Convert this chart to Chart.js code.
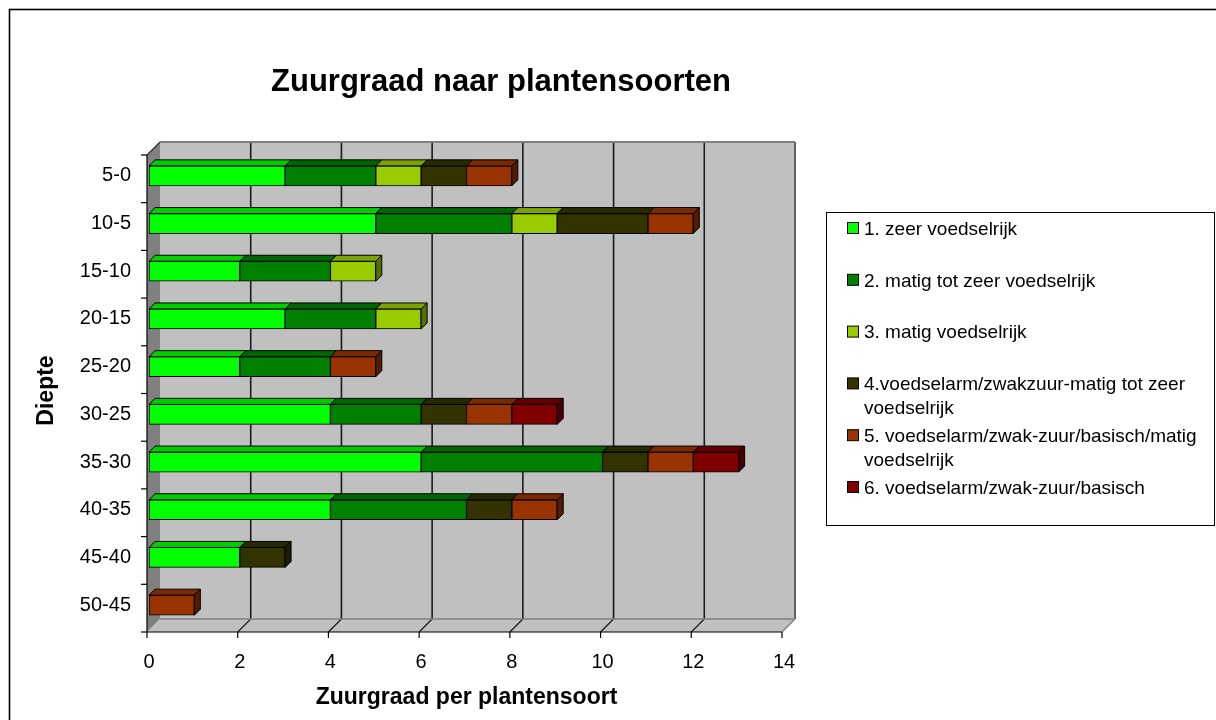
<!DOCTYPE html>
<html lang="nl">
<head>
<meta charset="UTF-8">
<title>Zuurgraad naar plantensoorten</title>
<script src="https://cdn.jsdelivr.net/npm/chart.js"></script>
<style>
html,body{margin:0;padding:0;background:#fff;}
canvas{display:block;}
</style>
</head>
<body>
<canvas id="chart" width="1216" height="720"></canvas>
<script>
/* ── data ───────────────────────────────────────────── */
const DEPTHS=["5-0","10-5","15-10","20-15","25-20","30-25","35-30","40-35","45-40","50-45"];
const ZEER_VOEDSELRIJK   =[3,5,2,3,2,4,6,4,2,0];
const MATIG_TOT_ZEER     =[2,3,2,2,2,2,4,3,0,0];
const MATIG_VOEDSELRIJK  =[1,1,1,1,0,0,0,0,0,0];
const VOEDSELARM_MATIG   =[1,2,0,0,0,1,1,1,1,0];
const VOEDSELARM_BASISCH =[1,1,0,0,1,1,1,1,0,1];
const VOEDSELARM_ZUUR    =[0,0,0,0,0,1,1,0,0,0];
const SERIES_NAMES=[
  "1. zeer voedselrijk",
  "2. matig tot zeer voedselrijk",
  "3. matig voedselrijk",
  "4.voedselarm/zwakzuur-matig tot zeer voedselrijk",
  "5. voedselarm/zwak-zuur/basisch/matig voedselrijk",
  "6. voedselarm/zwak-zuur/basisch"
];
const SERIES=[ZEER_VOEDSELRIJK,MATIG_TOT_ZEER,MATIG_VOEDSELRIJK,VOEDSELARM_MATIG,VOEDSELARM_BASISCH,VOEDSELARM_ZUUR];
const COLORS=["#00FF00","#008000","#99CC00","#333300","#993300","#800000"];
const X_TICKS=[0,2,4,6,8,10,12,14];

const FONT='"Liberation Sans", Arial, Helvetica, sans-serif';

/* ── 3d helpers ─────────────────────────────────────── */
const FRONT={dx:-2,dy:3}, BACK={dx:11,dy:-10}, BAR_D={dx:6,dy:-6};

const shade=(hex,f)=>{
  const n=parseInt(hex.slice(1),16);
  const r=(n>>16)&255,g=(n>>8)&255,b=n&255;
  return `rgb(${Math.round(r*f)},${Math.round(g*f)},${Math.round(b*f)})`;
};
function poly(ctx,pts,fill,stroke,lw){
  ctx.beginPath();
  pts.forEach(([px,py],i)=>i?ctx.lineTo(px,py):ctx.moveTo(px,py));
  ctx.closePath();
  if(fill){ctx.fillStyle=fill;ctx.fill();}
  if(stroke){ctx.strokeStyle=stroke;ctx.lineWidth=lw||1;ctx.stroke();}
}
function line(ctx,x1,y1,x2,y2,col,lw){
  ctx.beginPath();ctx.moveTo(x1,y1);ctx.lineTo(x2,y2);
  ctx.strokeStyle=col;ctx.lineWidth=lw||1;ctx.stroke();
}

const walls={
  id:"walls",
  beforeDatasetsDraw(chart){
    const {ctx,chartArea:a,scales:{x}}=chart;
    const fl=a.left+FRONT.dx, ft=a.top+FRONT.dy, fr=a.right+FRONT.dx, fb=a.bottom+FRONT.dy;
    const bl=a.left+BACK.dx,  bt=a.top+BACK.dy,  br=a.right+BACK.dx,  bb=a.bottom+BACK.dy;
    ctx.save();
    // back wall, floor, side wall
    ctx.fillStyle="#C0C0C0";ctx.fillRect(bl,bt,br-bl,bb-bt);
    poly(ctx,[[fl,fb],[bl,bb],[br,bb],[fr,fb]],"#C0C0C0");
    poly(ctx,[[fl,ft],[bl,bt],[bl,bb],[fl,fb]],"#808080");
    // grid on wall + floor
    X_TICKS.forEach((v,i)=>{
      if(i===0||i===X_TICKS.length-1) return;
      const px=x.getPixelForValue(v);
      line(ctx,px+BACK.dx,bt,px+BACK.dx,bb,"#1a1a1a",1.6);
      line(ctx,px+FRONT.dx,fb,px+BACK.dx,bb,"#1a1a1a",1.2);
    });
    // wall edges
    line(ctx,bl,bt,br,bt,"#808080",2);
    line(ctx,br,bt,br,bb,"#606060",2);
    line(ctx,bl,bb,br,bb,"#808080",1.5);
    line(ctx,fr,fb,br,bb,"#808080",1.5);
    line(ctx,fl,ft,bl,bt,"#303030",1.2);
    // axes
    line(ctx,fl,ft,fl,fb,"#000",1.2);
    line(ctx,fl,fb,fr,fb,"#000",1.2);
    X_TICKS.forEach(v=>{
      const px=x.getPixelForValue(v)+FRONT.dx;
      line(ctx,px,fb,px,fb+6,"#000",1.2);
    });
    const n=DEPTHS.length;
    for(let i=0;i<=n;i++){
      const yb=ft+(fb-ft)*i/n;
      line(ctx,fl-6,yb,fl,yb,"#000",1.2);
    }
    ctx.restore();
  },
  afterDatasetsDraw(chart){
    const {ctx}=chart;
    ctx.save();
    ctx.lineJoin="miter";
    DEPTHS.forEach((_,j)=>{
      let last=-1;
      SERIES.forEach((s,i)=>{if(s[j]>0) last=i;});
      SERIES.forEach((s,i)=>{
        if(!(s[j]>0)) return;
        const el=chart.getDatasetMeta(i).data[j];
        const {x:xe,y:yc,base,height}=el.getProps(["x","y","base","height"],true);
        const top=yc-height/2, bot=yc+height/2;
        poly(ctx,[[base,top],[base+BAR_D.dx,top+BAR_D.dy],[xe+BAR_D.dx,top+BAR_D.dy],[xe,top]],
             shade(COLORS[i],0.8),"#000",1);
        if(i===last){
          poly(ctx,[[xe,top],[xe+BAR_D.dx,top+BAR_D.dy],[xe+BAR_D.dx,bot+BAR_D.dy],[xe,bot]],
               shade(COLORS[i],0.55),"#000",1);
        }
      });
    });
    ctx.restore();
  },
  afterDraw(chart){
    const {ctx}=chart;
    ctx.save();
    // outer frame
    ctx.strokeStyle="#000";ctx.lineWidth=1.6;
    ctx.strokeRect(9.5,9.5,1230,740);
    // title
    ctx.fillStyle="#000";
    ctx.font=`bold 31px ${FONT}`;
    ctx.textAlign="center";ctx.textBaseline="middle";
    ctx.fillText("Zuurgraad naar plantensoorten",501,82);
    // legend
    ctx.lineWidth=1;ctx.strokeStyle="#000";
    ctx.strokeRect(826.5,212.5,388,313);
    ctx.font=`19px ${FONT}`;
    ctx.textAlign="left";
    const maxW=346;
    SERIES_NAMES.forEach((name,i)=>{
      const yi=228.5+i*51.8;
      ctx.fillStyle=COLORS[i];
      ctx.fillRect(847.5,yi-6,11,11);
      ctx.strokeRect(847.5,yi-6,11,11);
      // wrap
      const words=name.split(" ");const lines=[];let cur="";
      words.forEach(w=>{
        const t=cur?cur+" "+w:w;
        if(ctx.measureText(t).width>maxW&&cur){lines.push(cur);cur=w;}else cur=t;
      });
      lines.push(cur);
      ctx.fillStyle="#000";
      lines.forEach((l,k)=>ctx.fillText(l,864,yi+1+k*24));
    });
    ctx.restore();
  }
};

/* ── chart ──────────────────────────────────────────── */
Chart.defaults.font.family=FONT;
Chart.defaults.color="#000";

new Chart(document.getElementById("chart"),{
  type:"bar",
  data:{
    labels:DEPTHS,
    datasets:SERIES.map((s,i)=>({
      label:SERIES_NAMES[i],
      data:s,
      backgroundColor:COLORS[i],
      borderColor:"#000",
      borderWidth:1,
      borderSkipped:false,
      barThickness:20
    }))
  },
  options:{
    indexAxis:"y",
    responsive:false,
    animation:false,
    layout:{padding:{left:0,top:152,right:432,bottom:0}},
    plugins:{legend:{display:false},title:{display:false},tooltip:{enabled:false}},
    scales:{
      x:{
        stacked:true,min:X_TICKS[0],max:X_TICKS[X_TICKS.length-1],
        afterFit(s){s.height=91;},
        ticks:{stepSize:2,font:{size:20},color:"#000",padding:21},
        grid:{display:false,drawTicks:false},
        border:{display:false},
        title:{display:true,text:"Zuurgraad per plantensoort",font:{size:23,weight:"bold"},color:"#000",padding:{top:0,bottom:9}}
      },
      y:{
        stacked:true,
        afterFit(s){s.width=149;},
        ticks:{font:{size:20},color:"#000",padding:18},
        grid:{display:false,drawTicks:false},
        border:{display:false},
        title:{display:true,text:"Diepte",font:{size:23,weight:"bold"},color:"#000",padding:{top:33,bottom:0}}
      }
    }
  },
  plugins:[walls]
});
</script>
</body>
</html>
